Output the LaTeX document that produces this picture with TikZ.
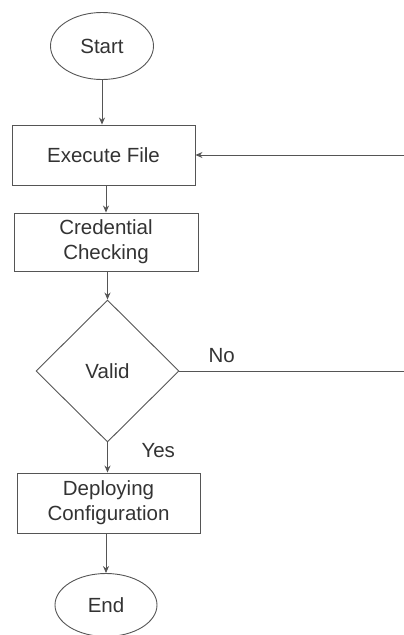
\documentclass[tikz,border=0pt]{standalone}
\usepackage{fontspec}
\setmainfont{Liberation Sans}
\usetikzlibrary{shapes.geometric,arrows.meta}
\definecolor{linec}{HTML}{555555}
\definecolor{textc}{HTML}{333333}
\begin{document}
\begin{tikzpicture}[x=1pt,y=1pt,
  every node/.style={text=textc,font=\fontsize{20.5}{25}\selectfont,align=center},
  term/.style={ellipse,draw=linec,line width=0.9pt,inner sep=0pt},
  procbox/.style={rectangle,draw=linec,line width=0.9pt,inner sep=0pt},
  decide/.style={diamond,draw=linec,line width=0.9pt,inner sep=0pt,minimum width=143pt,minimum height=142pt},
  conn/.style={draw=linec,line width=0.9pt},
  arr/.style={conn,-{Stealth[length=7pt,width=6pt]}}]
\useasboundingbox (0,0) rectangle (404,-635);
\node[term,minimum width=103pt,minimum height=67pt] (start) at (102,-46) {Start};
\node[procbox,minimum width=183pt,minimum height=60pt] (exec) at (103.5,-155) {Execute File};
\node[procbox,minimum width=184pt,minimum height=58pt] (cred) at (106,-242) {Credential\\Checking};
\node[decide] (valid) at (107.5,-371) {Valid};
\node[procbox,minimum width=183pt,minimum height=60pt] (deploy) at (108.5,-503) {Deploying\\Configuration};
\node[term,minimum width=102pt,minimum height=63pt] (end) at (106,-605) {End};
\coordinate (r1) at (404,-155);
\coordinate (r2) at (404,-371);
\draw[arr] (start.south) -- (start.south |- exec.north);
\draw[arr] (r1) -- (exec.east);
\draw[arr] (exec.south -| cred.north) -- (cred.north);
\draw[arr] (cred.south -| valid.north) -- (valid.north);
\draw[conn] (valid.east) -- (r2);
\draw[arr] (valid.south) -- (valid.south |- deploy.north);
\draw[arr] (deploy.south -| end.north) -- (end.north);
\node[anchor=south west] (no) at (205,-366) {No};
\node[anchor=west] (yes) at (138,-451) {Yes};
\end{tikzpicture}
\end{document}
